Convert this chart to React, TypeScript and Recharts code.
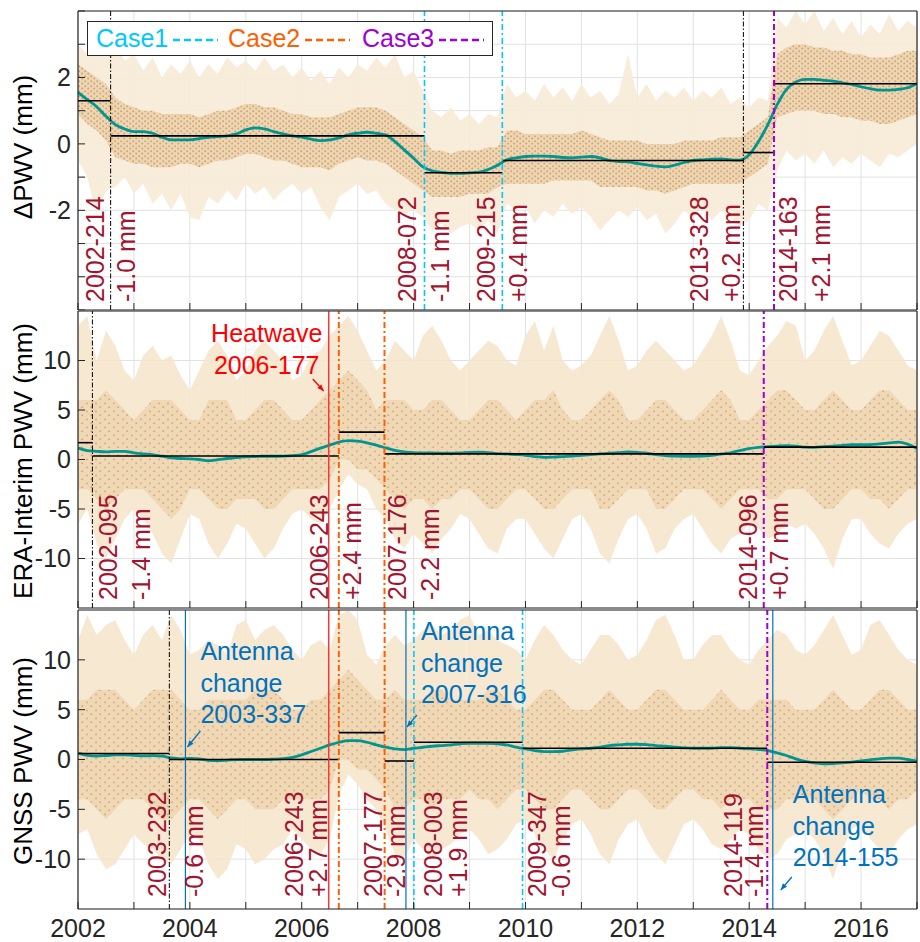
import React from 'react';
import { Area, CartesianGrid, ComposedChart, Line, ReferenceLine, XAxis, YAxis } from 'recharts';

const FONT = '"Liberation Sans", Arial, Helvetica, sans-serif';
const MAROON = '#A2142F';
const AXIS = '#262626';
const TEAL = '#00968F';
const GRID = '#E2E2E2';

const YEARS = [2002, 2003, 2004, 2005, 2006, 2007, 2008, 2009, 2010, 2011, 2012, 2013, 2014, 2015, 2016, 2017];
// sampling grid of the read-off envelopes and trends (every two months)
const SAMPLE_T = Array.from({ length: 91 }, (_, k) => 2002 + k / 6);

// ---------- Panel 1: delta PWV ----------
const DPWV_TREND = [
  1.55, 1.33, 1.12, 0.83, 0.58, 0.45,
  0.37, 0.37, 0.32, 0.2, 0.12, 0.12,
  0.12, 0.16, 0.2, 0.22, 0.24, 0.3,
  0.42, 0.48, 0.45, 0.37, 0.3, 0.24,
  0.2, 0.14, 0.1, 0.12, 0.18, 0.27,
  0.32, 0.35, 0.32, 0.27, 0.07, -0.18,
  -0.43, -0.69, -0.81, -0.86, -0.89, -0.89,
  -0.87, -0.85, -0.77, -0.64, -0.48, -0.42,
  -0.38, -0.37, -0.37, -0.38, -0.41, -0.42,
  -0.4, -0.38, -0.42, -0.5, -0.53, -0.54,
  -0.59, -0.63, -0.67, -0.69, -0.64, -0.56,
  -0.5, -0.48, -0.46, -0.45, -0.48, -0.49,
  -0.33, 0.07, 0.58, 1.18, 1.64, 1.86,
  1.94, 1.94, 1.91, 1.89, 1.84, 1.79,
  1.72, 1.66, 1.62, 1.62, 1.64, 1.69,
  1.82,
];
const DPWV_HI = [
  3.0, 2.7, 3.1, 2.8, 3.0, 2.5,
  2.7, 2.2, 2.6, 2.0, 2.4, 2.1,
  2.5, 2.0, 2.4, 2.1, 2.6, 2.3,
  2.5, 2.2, 2.6, 2.2, 2.4, 2.0,
  2.3, 1.9, 2.2, 1.8, 2.3, 2.0,
  2.4, 2.2, 2.6, 2.3, 2.7, 2.0,
  2.2, 1.6, 1.0, 0.8, 1.1, 0.7,
  0.9, 0.6, 0.9, 0.8, 1.8, 1.4,
  1.6, 1.3, 1.8, 1.4, 1.7, 1.3,
  1.8, 1.4, 1.6, 1.2, 1.5, 2.7,
  1.4, 1.8, 1.3, 1.6, 1.4, 1.7,
  1.3, 1.6, 1.4, 1.7, 1.2, 1.4,
  1.1, 1.4, 1.3, 3.8, 3.5, 4.0,
  3.6, 4.0, 3.4, 3.8, 3.3, 3.7,
  3.2, 3.6, 3.3, 3.9, 3.4, 3.7,
  3.5,
];
const DPWV_LO = [
  -0.5, -1.0, -2.1, -1.4, -1.3, -1.0,
  -1.5, -1.2, -1.8, -1.5, -2.0, -1.5,
  -2.2, -2.3, -1.6, -1.8, -1.4, -1.7,
  -1.2, -1.5, -1.3, -1.7, -1.4, -1.2,
  -1.5, -1.3, -1.9, -2.3, -1.6, -1.4,
  -1.2, -1.5, -1.4, -1.8, -2.0, -2.1,
  -2.0, -2.2, -2.6, -2.4, -2.7, -2.5,
  -2.4, -2.6, -2.3, -2.7, -1.8, -2.0,
  -1.9, -2.4, -2.0, -2.2, -1.8, -2.1,
  -1.9, -2.2, -2.6, -2.3, -2.0, -2.2,
  -1.9, -2.3, -2.1, -2.7, -2.4, -2.0,
  -2.2, -1.9, -2.3, -2.0, -2.2, -2.5,
  -2.3, -1.8, -2.0, -0.8, -0.2, -0.5,
  -0.3, -0.6, -0.2, -0.7, -0.4, -0.6,
  -0.3, -0.5, -0.7, -0.3, -0.4, -0.2,
  0.0,
];
const DPWV_CORE_HI = [
  2.4, 2.2, 2.0, 1.8, 1.4, 1.2,
  1.1, 1.0, 1.0, 0.9, 0.9, 0.9,
  0.9, 0.8, 0.9, 1.0, 1.0, 1.1,
  1.2, 1.2, 1.1, 1.1, 1.0, 0.9,
  0.9, 0.8, 0.8, 0.8, 0.9, 1.0,
  1.1, 1.1, 1.1, 1.0, 0.8, 0.6,
  0.4, 0.2, -0.2, -0.2, -0.3, -0.2,
  -0.2, -0.2, -0.1, -0.1, 0.4, 0.4,
  0.3, 0.3, 0.3, 0.3, 0.3, 0.3,
  0.4, 0.3, 0.2, 0.1, 0.1, 0.1,
  0.1, 0.0, 0.0, 0.0, 0.0, 0.1,
  0.1, 0.1, 0.1, 0.2, 0.2, 0.2,
  0.4, 0.6, 0.8, 2.7, 2.9, 3.0,
  3.0, 2.9, 2.9, 2.8, 2.8, 2.7,
  2.7, 2.6, 2.6, 2.6, 2.7, 2.8,
  2.8,
];
const DPWV_CORE_LO = [
  0.9, 0.6, 0.4, 0.1, -0.4, -0.5,
  -0.6, -0.6, -0.7, -0.7, -0.7, -0.6,
  -0.6, -0.7, -0.6, -0.5, -0.5, -0.4,
  -0.3, -0.3, -0.4, -0.5, -0.5, -0.6,
  -0.7, -0.7, -0.7, -0.8, -0.6, -0.5,
  -0.4, -0.5, -0.5, -0.6, -0.8, -1.0,
  -1.2, -1.4, -1.6, -1.6, -1.6, -1.6,
  -1.5, -1.5, -1.5, -1.3, -1.2, -1.2,
  -1.2, -1.2, -1.2, -1.1, -1.1, -1.1,
  -1.1, -1.1, -1.3, -1.3, -1.3, -1.3,
  -1.3, -1.4, -1.4, -1.5, -1.4, -1.3,
  -1.2, -1.2, -1.2, -1.2, -1.2, -1.2,
  -1.0, -0.8, -0.6, 0.8, 0.9, 1.0,
  1.0, 1.0, 0.9, 0.9, 0.8, 0.8,
  0.7, 0.7, 0.6, 0.6, 0.7, 0.8,
  0.9,
];
const DPWV_DATES = ['2002-214', '2008-072', '2009-215', '2013-328', '2014-163'];
const DPWV_KINDS = ['undoc', 'case1', 'case1', 'undoc', 'case3'];
const DPWV_JUMPS = ['-1.0 mm', '-1.1 mm', '+0.4 mm', '+0.2 mm', '+2.1 mm'];
const DPWV_LEVELS = [1.3, 0.24, -0.87, -0.5, -0.26, 1.81];

// ---------- Panel 2: ERA-Interim PWV ----------
const ERA_TREND = [
  1.17, 0.9, 0.83, 0.77, 0.83, 0.83,
  0.67, 0.57, 0.5, 0.33, 0.17, 0.1,
  0.07, 0.0, -0.12, -0.02, 0.1, 0.2,
  0.27, 0.3, 0.33, 0.33, 0.35, 0.4,
  0.5, 0.8, 1.15, 1.45, 1.75, 1.9,
  1.85, 1.68, 1.45, 1.18, 0.92, 0.78,
  0.7, 0.67, 0.66, 0.64, 0.63, 0.66,
  0.72, 0.75, 0.68, 0.6, 0.56, 0.5,
  0.43, 0.3, 0.22, 0.25, 0.3, 0.34,
  0.42, 0.5, 0.57, 0.63, 0.7, 0.76,
  0.73, 0.63, 0.5, 0.4, 0.34, 0.33,
  0.33, 0.34, 0.42, 0.56, 0.68, 0.9,
  1.1, 1.22, 1.3, 1.36, 1.4, 1.36,
  1.25, 1.23, 1.3, 1.34, 1.43, 1.5,
  1.5, 1.5, 1.57, 1.67, 1.76, 1.55,
  1.1,
];
const ERA_HI = [
  13.5, 14.5, 10.0, 13.0, 11.5, 9.0,
  8.0, 10.5, 11.5, 10.0, 10.5, 8.5,
  7.0, 9.0, 11.0, 12.0, 10.5, 8.0,
  9.0, 11.0, 12.0, 11.0, 10.0, 8.0,
  8.5, 10.5, 11.0, 12.5, 13.5, 14.5,
  13.0, 11.0, 9.0, 10.0, 12.0, 11.0,
  10.0, 12.5, 13.5, 12.0, 10.0, 9.0,
  10.0, 11.0, 12.0, 11.5, 10.0, 9.5,
  12.5, 14.0, 11.0, 13.5, 10.0, 9.0,
  9.5, 10.5, 12.5, 14.5, 12.0, 9.0,
  9.5, 11.0, 12.0, 11.0, 10.0, 9.0,
  9.5, 11.0, 12.5, 14.5, 12.0, 9.0,
  8.5, 10.0, 11.5, 12.5, 14.0, 13.5,
  10.0, 11.0, 13.0, 14.5, 12.0, 9.5,
  10.0, 11.5, 13.0, 12.5, 11.0, 9.5,
  9.0,
];
const ERA_LO = [
  -6.5, -5.0, -8.5, -10.0, -8.0, -6.0,
  -5.0, -6.0, -7.5, -9.5, -10.5, -8.0,
  -5.5, -6.0, -8.5, -10.0, -8.5, -6.5,
  -7.0, -8.5, -10.0, -9.0, -7.0, -5.5,
  -5.0, -6.0, -6.5, -5.0, -3.0, -1.5,
  -2.5, -3.0, -5.0, -6.0, -8.0, -9.0,
  -7.5, -8.5, -9.5, -8.0, -7.0, -5.5,
  -6.0, -7.5, -9.0, -9.5, -7.0, -6.0,
  -6.0, -7.5, -9.0, -10.0, -8.0, -6.0,
  -5.5, -7.0, -9.5, -10.5, -8.0, -6.0,
  -5.5, -7.0, -9.5, -9.0, -7.0, -6.0,
  -5.5, -7.0, -8.5, -9.5, -8.0, -7.5,
  -6.5, -7.0, -8.0, -7.5, -6.5, -7.0,
  -6.5, -7.5, -9.0, -11.0, -8.0, -6.0,
  -6.0, -7.5, -8.5, -9.0, -7.5, -6.5,
  -6.0,
];
const ERA_CORE_HI = [
  6, 6, 6, 7, 6, 5,
  4, 5, 6, 6, 6, 5,
  4, 4, 6, 6, 6, 4,
  4, 5, 6, 6, 5, 4,
  4, 5, 6, 7, 8, 9,
  8, 7, 5, 6, 6, 6,
  5, 5, 6, 6, 5, 4,
  4, 5, 6, 6, 5, 4,
  5, 6, 6, 7, 5, 4,
  4, 5, 6, 7, 6, 4,
  4, 5, 6, 6, 5, 4,
  4, 5, 6, 7, 6, 4,
  4, 5, 6, 7, 7, 6,
  5, 5, 6, 7, 6, 5,
  5, 6, 7, 7, 6, 5,
  5,
];
const ERA_CORE_LO = [
  -3, -3, -4, -5, -4, -3,
  -3, -3, -4, -5, -6, -5,
  -3, -3, -4, -5, -5, -4,
  -4, -4, -5, -5, -4, -3,
  -3, -3, -3, -2, 0, 0,
  -1, -1, -2, -3, -4, -5,
  -4, -4, -5, -4, -4, -3,
  -3, -4, -5, -5, -4, -3,
  -3, -4, -5, -5, -4, -3,
  -3, -3, -5, -5, -4, -3,
  -3, -3, -5, -5, -4, -3,
  -3, -3, -4, -5, -4, -3,
  -3, -3, -4, -4, -3, -3,
  -3, -4, -5, -5, -4, -3,
  -3, -4, -4, -5, -4, -3,
  -3,
];
const ERA_DATES = ['2002-095', '2006-243', '2007-176', '2014-096'];
const ERA_KINDS = ['undoc', 'case2', 'case2', 'case3'];
const ERA_JUMPS = ['-1.4 mm', '+2.4 mm', '-2.2 mm', '+0.7 mm'];
const ERA_LEVELS = [1.7, 0.35, 2.77, 0.57, 1.25];

// ---------- Panel 3: GNSS PWV ----------
const GNSS_TREND = [
  0.63, 0.42, 0.35, 0.4, 0.46, 0.47,
  0.42, 0.36, 0.38, 0.33, 0.15, 0.07,
  0.1, 0.05, -0.08, -0.12, -0.07, -0.01,
  0.0, 0.0, 0.0, 0.03, 0.08, 0.22,
  0.47, 0.8, 1.13, 1.47, 1.73, 1.9,
  1.9, 1.73, 1.47, 1.23, 1.07, 1.0,
  1.13, 1.23, 1.33, 1.4, 1.47, 1.57,
  1.63, 1.63, 1.63, 1.57, 1.47, 1.23,
  1.07, 0.9, 0.8, 0.8, 0.83, 0.97,
  1.07, 1.13, 1.23, 1.4, 1.47, 1.53,
  1.53, 1.5, 1.4, 1.33, 1.23, 1.17,
  1.13, 1.13, 1.13, 1.2, 1.2, 1.13,
  1.07, 1.0, 0.9, 0.67, 0.4, 0.07,
  -0.2, -0.33, -0.43, -0.4, -0.33, -0.27,
  -0.13, -0.03, 0.07, 0.13, 0.13, 0.0,
  -0.17,
];
const GNSS_HI = [
  12.0, 14.5, 12.5, 13.5, 14.0, 12.0,
  10.5, 12.5, 13.5, 12.0, 14.5, 13.0,
  10.5, 11.0, 12.0, 11.5, 10.5, 13.5,
  14.0, 12.0, 13.0, 13.5, 12.5, 11.0,
  10.0, 11.5, 12.0, 11.0, 14.5, 15.0,
  14.0, 10.5, 9.5, 11.5, 12.5, 11.5,
  12.0, 13.0, 13.5, 12.5, 13.0, 14.0,
  14.5, 12.5, 13.0, 12.0, 11.5, 11.0,
  10.0, 12.0, 13.5, 12.5, 11.0, 10.0,
  9.5, 11.0, 12.5, 12.5, 11.5, 10.0,
  10.5, 12.0, 14.0, 14.5, 12.5, 10.0,
  10.0, 11.5, 12.5, 12.5, 11.0, 10.0,
  9.5, 11.0, 12.0, 13.0, 12.5, 11.0,
  10.5, 11.5, 13.0, 14.5, 12.5, 10.5,
  11.0, 13.5, 14.0, 12.5, 11.0, 10.0,
  9.5,
];
const GNSS_LO = [
  -7.5, -7.0, -9.5, -11.0, -10.5, -9.0,
  -7.5, -8.5, -9.0, -10.0, -10.5, -9.0,
  -7.5, -8.0, -10.5, -12.0, -11.0, -8.5,
  -9.0, -10.5, -10.0, -9.0, -8.5, -7.0,
  -8.0, -9.0, -9.5, -8.0, -3.5, -1.5,
  -2.5, -4.0, -5.0, -7.0, -9.5, -10.0,
  -8.0, -9.0, -10.0, -9.0, -8.5, -7.5,
  -7.0, -8.0, -9.5, -9.0, -8.0, -6.5,
  -6.0, -7.5, -9.0, -10.0, -8.0, -6.5,
  -6.0, -7.5, -9.5, -10.5, -8.0, -6.5,
  -6.0, -8.0, -9.5, -10.5, -8.5, -6.5,
  -6.0, -7.0, -8.5, -9.0, -8.0, -7.0,
  -7.5, -9.0, -10.0, -9.5, -8.0, -7.5,
  -7.0, -8.0, -9.5, -12.0, -9.0, -7.0,
  -6.5, -8.0, -9.0, -9.5, -8.0, -7.0,
  -6.5,
];
const GNSS_CORE_HI = [
  6, 6, 7, 7, 7, 6,
  5, 6, 7, 7, 7, 6,
  5, 5, 6, 6, 6, 6,
  6, 7, 7, 7, 6, 5,
  5, 6, 6, 7, 8, 9,
  8, 7, 6, 6, 7, 6,
  6, 6, 7, 7, 6, 6,
  6, 6, 7, 7, 6, 5,
  5, 6, 7, 7, 6, 5,
  5, 5, 6, 7, 6, 5,
  5, 6, 7, 7, 6, 5,
  5, 5, 6, 7, 6, 5,
  5, 6, 6, 6, 6, 5,
  5, 5, 6, 7, 6, 5,
  5, 6, 7, 7, 6, 5,
  5,
];
const GNSS_CORE_LO = [
  -4, -4, -5, -6, -5, -4,
  -4, -4, -5, -6, -6, -5,
  -4, -4, -5, -6, -5, -4,
  -4, -5, -5, -5, -4, -4,
  -4, -4, -4, -3, 0, 0,
  -1, -1, -2, -3, -5, -5,
  -4, -4, -5, -4, -4, -4,
  -3, -4, -4, -5, -4, -3,
  -3, -4, -5, -5, -4, -3,
  -3, -4, -5, -5, -4, -3,
  -3, -4, -5, -5, -4, -3,
  -3, -4, -4, -5, -4, -4,
  -4, -5, -5, -5, -4, -4,
  -4, -4, -5, -6, -5, -4,
  -3, -4, -4, -5, -4, -4,
  -3,
];
const GNSS_DATES = ['2003-232', '2006-243', '2007-177', '2008-003', '2009-347', '2014-119'];
const GNSS_KINDS = ['undoc', 'case2', 'case2', 'case1', 'case1', 'case3'];
const GNSS_JUMPS = ['-0.6 mm', '+2.7 mm', '-2.9 mm', '+1.9 mm', '-0.6 mm', '-1.4 mm'];
const GNSS_LEVELS = [0.6, 0.0, 2.7, -0.15, 1.73, 1.13, -0.27];

const HEATWAVE_DATE = '2006-177';
const ANTENNA_DATES = ['2003-337', '2007-316', '2014-155'];

const LEGEND_LABELS = ['Case1', 'Case2', 'Case3'];
const LEGEND_KINDS = ['case1', 'case2', 'case3'];

// ---------- styles ----------
const KIND_STYLE: Record<string, { stroke: string; dash?: string; width: number }> = {
  undoc: { stroke: '#000000', dash: '5 2 1.5 2', width: 1 },
  case1: { stroke: '#00C8FF', dash: '6 3 2 3', width: 1.6 },
  case2: { stroke: '#FF5F00', dash: '6 3 2 3', width: 2 },
  case3: { stroke: '#A000D0', dash: '6 3 2 3', width: 2 },
  heat: { stroke: '#EE3B36', width: 1.5 },
  antenna: { stroke: '#0072BD', width: 1.2 },
};

// px offsets of the rotated [date, jump] labels from each event line
const DPWV_LABEL_DX: [number, number][] = [[-7, 24], [-8, 25], [-7, 25], [-35, -3], [23, 56]];
const ERA_LABEL_DX: [number, number][] = [[25, 58], [-11, 22], [22, 55], [-7, 24]];
const GNSS_LABEL_DX: [number, number][] = [[-3, 34], [-36, -12], [-3, 20], [28, 53], [23, 47], [-25, -4]];

interface Note {
  lines: string[];
  color: string;
  dx: number;
  dy: number;
  anchor: 'start' | 'middle';
  arrow: [number, number, number, number];
}
const HEAT_NOTE: Note = { lines: ['Heatwave', HEATWAVE_DATE], color: '#FF0000', dx: -62, dy: 31, anchor: 'middle', arrow: [-16, 68, -5, 80] };
const ANTENNA_NOTES: Note[] = [
  { lines: ['Antenna', 'change', ANTENNA_DATES[0]], color: '#0072BD', dx: 15, dy: 50, anchor: 'start', arrow: [15, 121, 2, 137] },
  { lines: ['Antenna', 'change', ANTENNA_DATES[1]], color: '#0072BD', dx: 15, dy: 30, anchor: 'start', arrow: [11, 105, 1, 117] },
  { lines: ['Antenna', 'change', ANTENNA_DATES[2]], color: '#0072BD', dx: 20, dy: 193, anchor: 'start', arrow: [19, 267, 8, 280] },
];

const toYear = (s: string) => {
  const [y, d] = s.split('-').map(Number);
  return y + (d - 1) / 365;
};

const buildRows = (hi: number[], lo: number[], coreHi: number[], coreLo: number[], trend: number[]) =>
  SAMPLE_T.map((t, i) => ({ t, outer: [lo[i], hi[i]], core: [coreLo[i], coreHi[i]], trend: trend[i] }));

const Arrow = ({ x1, y1, x2, y2, color }: { x1: number; y1: number; x2: number; y2: number; color: string }) => {
  const a = Math.atan2(y2 - y1, x2 - x1);
  const h = 7;
  const p1 = [x2 - h * Math.cos(a - 0.4), y2 - h * Math.sin(a - 0.4)];
  const p2 = [x2 - h * Math.cos(a + 0.4), y2 - h * Math.sin(a + 0.4)];
  return (
    <g>
      <line x1={x1} y1={y1} x2={x2} y2={y2} stroke={color} strokeWidth={1.3} />
      <polygon points={`${x2},${y2} ${p1[0]},${p1[1]} ${p2[0]},${p2[1]}`} fill={color} />
    </g>
  );
};

const eventLabel = (date: string, jump: string, dx: [number, number], gap: number) => (props: any) => {
  const vb = props?.viewBox;
  if (!vb) return null;
  const by = vb.y + vb.height - gap;
  const texts = [date, jump];
  return (
    <g>
      {texts.map((s, i) => {
        const bx = vb.x + dx[i];
        return (
          <text key={s + i} x={bx} y={by} transform={`rotate(-90 ${bx} ${by})`} fill={MAROON} fontSize={25} fontFamily={FONT}>
            {s}
          </text>
        );
      })}
    </g>
  );
};

const noteLabel = (note: Note) => (props: any) => {
  const vb = props?.viewBox;
  if (!vb) return null;
  const x = vb.x + note.dx;
  const [ax1, ay1, ax2, ay2] = note.arrow;
  return (
    <g>
      {note.lines.map((s, i) => (
        <text key={s} x={x} y={vb.y + note.dy + i * 31.5} textAnchor={note.anchor} fill={note.color} fontSize={25} fontFamily={FONT}>
          {s}
        </text>
      ))}
      <Arrow x1={vb.x + ax1} y1={vb.y + ay1} x2={vb.x + ax2} y2={vb.y + ay2} color={note.color} />
    </g>
  );
};

interface ExtraLine {
  date: string;
  kind: string;
  note?: Note;
}

interface PanelProps {
  id: string;
  top: number;
  height: number;
  bottomAxis: number;
  showX: boolean;
  rows: ReturnType<typeof buildRows>;
  domain: [number, number];
  yTicks: number[];
  yLabels: number[];
  dates: string[];
  kinds: string[];
  jumps: string[];
  labelDx: [number, number][];
  levels: number[];
  gap: number;
  extra: ExtraLine[];
  outerFill: string;
  coreBg: string;
  dotFill: string;
  dense: boolean;
}

const Panel = (p: PanelProps) => {
  const eventT = p.dates.map(toYear);
  const breaks = [2002, ...eventT, 2017];
  const axisLine = { stroke: AXIS, strokeWidth: 1.2 };
  const tw = p.dense ? 6 : 9;
  const th = p.dense ? 5 : 8;
  return (
    <div style={{ position: 'absolute', left: 0, top: p.top }}>
      <ComposedChart width={920} height={p.height} data={p.rows} margin={{ top: 0, right: 1, bottom: 0, left: 0 }}>
        <defs>
          <pattern id={`dots-${p.id}`} width={tw} height={th} patternUnits="userSpaceOnUse">
            <rect width={tw} height={th} fill={p.coreBg} />
            <circle cx={1.2} cy={1.2} r={p.dense ? 1 : 0.9} fill={p.dotFill} />
            <circle cx={p.dense ? 4.2 : 6} cy={p.dense ? 3.6 : 5.4} r={p.dense ? 1 : 0.9} fill={p.dotFill} />
          </pattern>
        </defs>
        <CartesianGrid stroke={GRID} strokeWidth={1} />
        <XAxis
          type="number"
          dataKey="t"
          domain={[2002, 2017]}
          ticks={YEARS}
          interval={0}
          allowDataOverflow
          height={p.bottomAxis}
          tickSize={-7}
          tickMargin={17}
          axisLine={axisLine}
          tickLine={{ stroke: AXIS }}
          tick={{ fontSize: 25, fill: AXIS, fontFamily: FONT }}
          tickFormatter={(v: number) => (p.showX && v % 2 === 0 ? String(v) : '')}
        />
        <XAxis
          xAxisId="top"
          orientation="top"
          type="number"
          domain={[2002, 2017]}
          ticks={YEARS}
          interval={0}
          allowDataOverflow
          height={1}
          tickSize={-7}
          axisLine={axisLine}
          tickLine={{ stroke: AXIS }}
          tick={false}
        />
        <YAxis
          type="number"
          domain={p.domain}
          ticks={p.yTicks}
          interval={0}
          allowDataOverflow
          width={78}
          tickSize={-7}
          tickMargin={14}
          axisLine={axisLine}
          tickLine={{ stroke: AXIS }}
          tick={{ fontSize: 25, fill: AXIS, fontFamily: FONT }}
          tickFormatter={(v: number) => (p.yLabels.includes(v) ? String(v) : '')}
        />
        <YAxis
          yAxisId="right"
          orientation="right"
          type="number"
          domain={p.domain}
          ticks={p.yTicks}
          interval={0}
          allowDataOverflow
          width={2}
          tickSize={-7}
          axisLine={axisLine}
          tickLine={{ stroke: AXIS }}
          tick={false}
        />
        <Area
          type="linear"
          dataKey="outer"
          stroke="none"
          fill={p.outerFill}
          fillOpacity={0.9}
          dot={false}
          activeDot={false}
          isAnimationActive={false}
        />
        <Area
          type="linear"
          dataKey="core"
          stroke="none"
          fill={`url(#dots-${p.id})`}
          fillOpacity={0.92}
          dot={false}
          activeDot={false}
          isAnimationActive={false}
        />
        <Line type="monotone" dataKey="trend" stroke={TEAL} strokeWidth={2.8} dot={false} activeDot={false} isAnimationActive={false} />
        {p.levels.map((lvl, i) => (
          <ReferenceLine
            key={`lvl-${i}`}
            segment={[{ x: breaks[i], y: lvl }, { x: breaks[i + 1], y: lvl }]}
            stroke="#000000"
            strokeWidth={1.6}
          />
        ))}
        {p.extra.map((e) => {
          const st = KIND_STYLE[e.kind];
          return (
            <ReferenceLine
              key={`x-${e.date}`}
              x={toYear(e.date)}
              stroke={st.stroke}
              strokeWidth={st.width}
              strokeDasharray={st.dash}
              label={e.note ? noteLabel(e.note) : undefined}
            />
          );
        })}
        {eventT.map((t, i) => {
          const st = KIND_STYLE[p.kinds[i]];
          return (
            <ReferenceLine
              key={`ev-${i}`}
              x={t}
              stroke={st.stroke}
              strokeWidth={st.width}
              strokeDasharray={st.dash}
              label={eventLabel(p.dates[i], p.jumps[i], p.labelDx[i], p.gap)}
            />
          );
        })}
      </ComposedChart>
    </div>
  );
};

const TITLES = [
  { text: '\u0394PWV (mm)', cy: 147 },
  { text: 'ERA-Interim PWV (mm)', cy: 461 },
  { text: 'GNSS PWV (mm)', cy: 761 },
];

export default function App() {
  const dpwvRows = buildRows(DPWV_HI, DPWV_LO, DPWV_CORE_HI, DPWV_CORE_LO, DPWV_TREND);
  const eraRows = buildRows(ERA_HI, ERA_LO, ERA_CORE_HI, ERA_CORE_LO, ERA_TREND);
  const gnssRows = buildRows(GNSS_HI, GNSS_LO, GNSS_CORE_HI, GNSS_CORE_LO, GNSS_TREND);

  return (
    <div style={{ position: 'absolute', left: 0, top: 0, width: 920, height: 942, background: '#ffffff', fontFamily: FONT }}>
      <Panel
        id="p1"
        top={10}
        height={301}
        bottomAxis={1}
        showX={false}
        rows={dpwvRows}
        domain={[-5, 4]}
        yTicks={[-5, -4, -3, -2, -1, 0, 1, 2, 3, 4]}
        yLabels={[-2, 0, 2]}
        dates={DPWV_DATES}
        kinds={DPWV_KINDS}
        jumps={DPWV_JUMPS}
        labelDx={DPWV_LABEL_DX}
        levels={DPWV_LEVELS}
        gap={8}
        extra={[]}
        outerFill="#F7EAD6"
        coreBg="#EED4AE"
        dotFill="#C99F75"
        dense
      />
      <Panel
        id="p2"
        top={310}
        height={299}
        bottomAxis={1}
        showX={false}
        rows={eraRows}
        domain={[-15, 15]}
        yTicks={[-10, -5, 0, 5, 10]}
        yLabels={[-10, -5, 0, 5, 10]}
        dates={ERA_DATES}
        kinds={ERA_KINDS}
        jumps={ERA_JUMPS}
        labelDx={ERA_LABEL_DX}
        levels={ERA_LEVELS}
        gap={8}
        extra={[{ date: HEATWAVE_DATE, kind: 'heat', note: HEAT_NOTE }]}
        outerFill="#F6E6CD"
        coreBg="#F0D7B2"
        dotFill="#CBA47F"
        dense={false}
      />
      <Panel
        id="p3"
        top={609}
        height={333}
        bottomAxis={33}
        showX
        rows={gnssRows}
        domain={[-15, 15]}
        yTicks={[-10, -5, 0, 5, 10]}
        yLabels={[-10, -5, 0, 5, 10]}
        dates={GNSS_DATES}
        kinds={GNSS_KINDS}
        jumps={GNSS_JUMPS}
        labelDx={GNSS_LABEL_DX}
        levels={GNSS_LEVELS}
        gap={12}
        extra={[
          { date: HEATWAVE_DATE, kind: 'heat' },
          { date: ANTENNA_DATES[0], kind: 'antenna', note: ANTENNA_NOTES[0] },
          { date: ANTENNA_DATES[1], kind: 'antenna', note: ANTENNA_NOTES[1] },
          { date: ANTENNA_DATES[2], kind: 'antenna', note: ANTENNA_NOTES[2] },
        ]}
        outerFill="#F6E6CD"
        coreBg="#F0D7B2"
        dotFill="#CBA47F"
        dense={false}
      />
      <svg width={920} height={942} style={{ position: 'absolute', left: 0, top: 0, pointerEvents: 'none' }} fontFamily={FONT}>
        {TITLES.map((t) => (
          <text key={t.text} x={32} y={t.cy} transform={`rotate(-90 32 ${t.cy})`} textAnchor="middle" fontSize={26} fill="#000000">
            {t.text}
          </text>
        ))}
        <g transform="translate(87,21)">
          <rect x={0.5} y={0.5} width={405} height={34} fill="#ffffff" stroke={AXIS} strokeWidth={1} />
          {LEGEND_LABELS.map((label, i) => {
            const st = KIND_STYLE[LEGEND_KINDS[i]];
            const x0 = [9, 141, 275][i];
            return (
              <g key={label}>
                <text x={x0} y={26} fontSize={25} fill={st.stroke}>
                  {label}
                </text>
                <line x1={x0 + 77} x2={x0 + 122} y1={19} y2={19} stroke={st.stroke} strokeWidth={2.5} strokeDasharray="7 4" />
              </g>
            );
          })}
        </g>
      </svg>
    </div>
  );
}
